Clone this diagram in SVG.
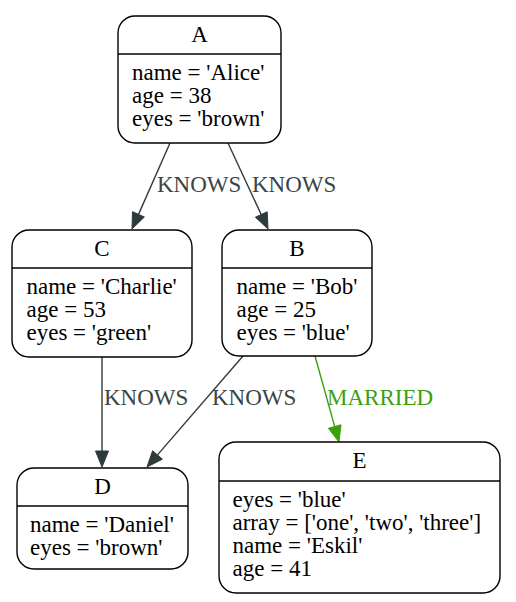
<svg xmlns="http://www.w3.org/2000/svg" width="516" height="602" viewBox="0 0 516 602">
<style>
.box{fill:#fff;stroke:#000;stroke-width:1.4}
.div{stroke:#000;stroke-width:1.4}
text{font-family:"Liberation Serif","Times New Roman",serif;font-size:23px;fill:#000}
.t{text-anchor:middle}
.e{fill:none;stroke:#2f3b3b;stroke-width:1.4}
.ah{fill:#2f3b3b;stroke:#2f3b3b;stroke-width:1}
.lbl{fill:#3a4545}
.g{fill:none;stroke:#3d9f0c;stroke-width:1.4}
.gah{fill:#3d9f0c;stroke:#3d9f0c;stroke-width:1}
.glbl{fill:#3d9f0c}
</style>
<rect width="516" height="602" fill="#fff"/>
<g id="edges">
<line class="e" x1="170" y1="143" x2="138.5" y2="214.4"/>
<polygon class="ah" points="132,229 132.5,211.7 144.4,217"/>
<text class="lbl" x="157" y="192">KNOWS</text>
<line class="e" x1="228" y1="143" x2="261.2" y2="214.5"/>
<polygon class="ah" points="268,229 255.4,217.2 267.2,211.8"/>
<text class="lbl" x="252" y="192">KNOWS</text>
<line class="e" x1="102" y1="357" x2="102" y2="451"/>
<polygon class="ah" points="102,467 95.5,451 108.5,451"/>
<text class="lbl" x="104" y="405">KNOWS</text>
<line class="e" x1="243" y1="356" x2="157.5" y2="454.9"/>
<polygon class="ah" points="147,467 152.6,450.7 162.4,459.2"/>
<text class="lbl" x="212" y="405">KNOWS</text>
<line class="g" x1="315" y1="356" x2="334.7" y2="426.6"/>
<polygon class="gah" points="339,442 328.4,428.3 341,424.8"/>
<text class="glbl" x="327" y="405">MARRIED</text>
</g>
<g id="A">
<rect class="box" x="118" y="16" width="163" height="127" rx="17"/>
<line class="div" x1="118" y1="54" x2="281" y2="54"/>
<text class="t" x="199.5" y="42">A</text>
<text x="132" y="80">name = 'Alice'</text>
<text x="132" y="103">age = 38</text>
<text x="132" y="126">eyes = 'brown'</text>
</g>
<g id="C">
<rect class="box" x="12" y="230" width="180" height="127" rx="17"/>
<line class="div" x1="12" y1="268" x2="192" y2="268"/>
<text class="t" x="102" y="256">C</text>
<text x="26.5" y="294">name = 'Charlie'</text>
<text x="26.5" y="317">age = 53</text>
<text x="26.5" y="340">eyes = 'green'</text>
</g>
<g id="B">
<rect class="box" x="222" y="230" width="150" height="126" rx="17"/>
<line class="div" x1="222" y1="268" x2="372" y2="268"/>
<text class="t" x="297" y="256">B</text>
<text x="236.5" y="294">name = 'Bob'</text>
<text x="236.5" y="317">age = 25</text>
<text x="236.5" y="340">eyes = 'blue'</text>
</g>
<g id="D">
<rect class="box" x="17" y="468" width="171" height="101" rx="17"/>
<line class="div" x1="17" y1="506" x2="188" y2="506"/>
<text class="t" x="102.5" y="494">D</text>
<text x="30" y="532">name = 'Daniel'</text>
<text x="30" y="555">eyes = 'brown'</text>
</g>
<g id="E">
<rect class="box" x="219" y="442" width="281" height="151" rx="17"/>
<line class="div" x1="219" y1="481" x2="500" y2="481"/>
<text class="t" x="359.5" y="468">E</text>
<text x="232.5" y="507">eyes = 'blue'</text>
<text x="232.5" y="530">array = ['one', 'two', 'three']</text>
<text x="232.5" y="553">name = 'Eskil'</text>
<text x="232.5" y="576">age = 41</text>
</g>
</svg>
